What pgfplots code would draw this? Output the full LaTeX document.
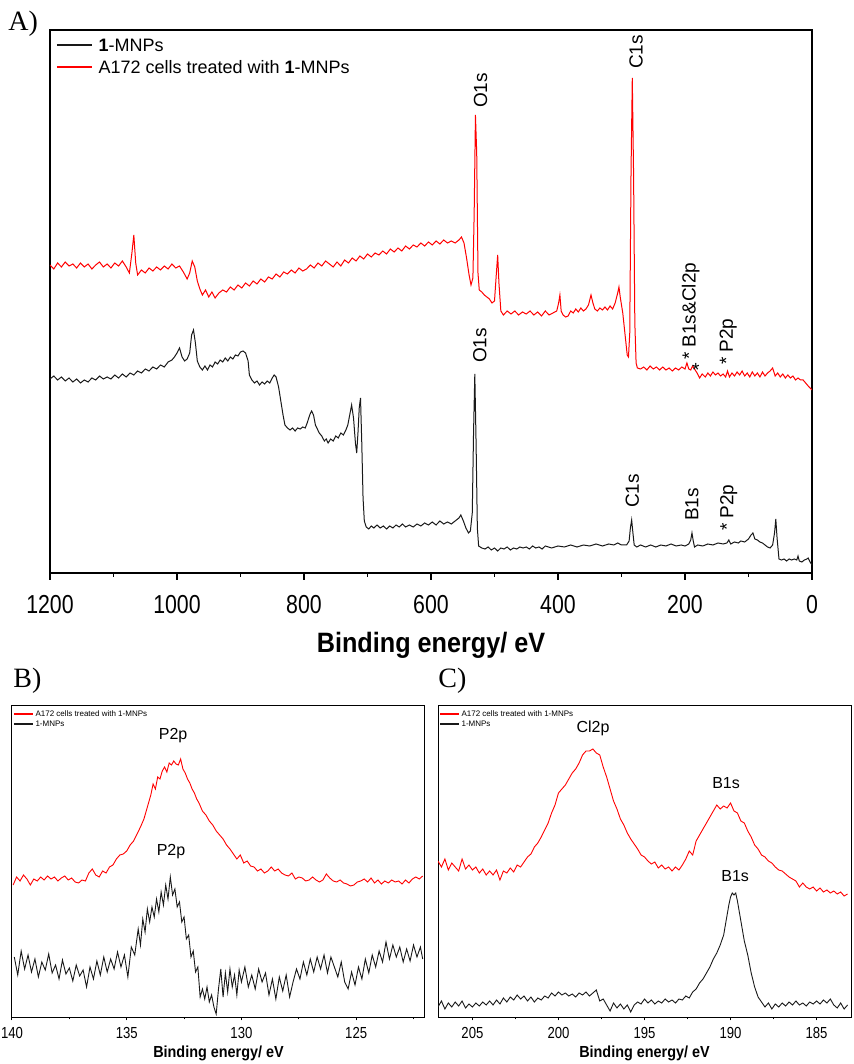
\documentclass[border=0pt]{standalone}
\usepackage{fontspec}
\setmainfont{Liberation Sans}
\newfontfamily\seriff{Liberation Serif}
\newfontfamily\narrowf[FakeStretch=0.82]{Liberation Sans}
\newfontfamily\labelf[FakeStretch=0.9]{Liberation Sans}
\usepackage{pgfplots}
\pgfplotsset{compat=1.18}
\definecolor{specred}{RGB}{255,0,0}
\definecolor{specblk}{RGB}{25,25,25}

\pgfplotsset{
  xps/.style={
    scale only axis, x dir=reverse, ytick=\empty,
    xtick pos=bottom, tick align=outside,
    /pgf/number format/assume math mode=true,
    /pgf/number format/1000 sep={},
  },
}

\begin{document}
\begin{tikzpicture}
\useasboundingbox (0,0) rectangle (427pt,532pt);

\node[inner sep=0pt, anchor=base west, font=\seriff\fontsize{14}{14}\selectfont] at (4pt,516.5pt) {A)};
\node[inner sep=0pt, anchor=base west, font=\seriff\fontsize{14}{14}\selectfont] at (6.5pt,188pt) {B)};
\node[inner sep=0pt, anchor=base west, font=\seriff\fontsize{14}{14}\selectfont] at (219pt,188pt) {C)};

% ---------- A: survey ----------
\begin{axis}[xps,
  at={(25pt,245.5pt)}, anchor=south west,
  width=381pt, height=271.5pt,
  xmin=0, xmax=1200, ymin=0, ymax=543,
  xtick={0,200,...,1200}, minor xtick={100,300,...,1100},
  major tick length=3.5pt, minor tick length=2pt,
  axis line style={line width=1pt},
  tick style={line width=0.8pt, black},
  xticklabel style={font=\narrowf\fontsize{13}{13}\selectfont, yshift=-4pt},
  xlabel={Binding energy/ eV},
  xlabel style={font=\labelf\bfseries\fontsize{14}{14}\selectfont, at={(axis description cs:0.5,0)}, anchor=center, yshift=-36pt},
]
\addplot[specblk, line width=0.5pt] coordinates {
(1200,194) (1194,197) (1188,193) (1182,196) (1176,192) (1170,195) (1164,191) (1158,194) (1152,190) (1146,193)
(1140,191) (1134,195) (1128,193) (1122,197) (1116,194) (1110,196) (1104,194) (1098,198) (1092,195) (1086,199)
(1080,196) (1074,200) (1068,198) (1062,202) (1056,200) (1050,204) (1044,202) (1038,206) (1032,204) (1026,208)
(1020,206) (1014,211) (1008,213) (1004,216) (1000,220) (996,225) (992,216) (988,212) (984,214) (980,220)
(977,238) (974,243) (971,230) (968,212) (964,206) (960,203) (956,207) (952,203) (948,208) (944,206)
(940,211) (936,209) (932,213) (928,211) (924,215) (920,212) (916,216) (912,214) (908,218) (904,217)
(900,221) (896,222) (892,220) (888,212) (886,198) (882,193) (878,190) (874,192) (870,188) (866,191)
(862,189) (858,192) (854,190) (850,195) (847,198) (844,196) (840,186) (836,170) (833,158) (830,148)
(826,145) (822,143) (818,145) (814,142) (810,145) (806,144) (802,146) (798,145) (795,150) (791,158)
(788,162) (785,158) (782,148) (779,144) (776,140) (772,137) (768,132) (765,134) (762,130) (758,134)
(754,132) (750,137) (746,135) (742,140) (738,138) (734,143) (731,148) (728,158) (725,168) (722,155)
(719,130) (717,120) (715,140) (713,165) (711,175) (709,130) (707,75) (705,52) (702,46) (698,44)
(694,47) (690,45) (685,48) (680,45) (675,47) (670,44) (665,47) (660,45) (655,48) (650,46)
(645,49) (640,46) (634,48) (628,46) (622,49) (616,47) (610,50) (604,48) (598,51) (592,48)
(586,52) (580,49) (574,51) (568,49) (562,52) (556,55) (553,58) (549,52) (545,45) (541,40)
(538,42) (535,60) (533,140) (531,199) (529,130) (527,45) (525,27) (520,25) (515,24) (510,26)
(505,23) (500,25) (495,22) (490,25) (485,24) (480,26) (475,23) (470,25) (465,24) (460,26)
(455,25) (450,26) (445,24) (440,27) (435,25) (430,26) (425,24) (420,27) (410,25) (400,27)
(390,26) (380,28) (370,26) (360,28) (350,27) (340,29) (330,27) (320,29) (312,28) (306,30)
(300,28) (292,28) (288,32) (286,45) (284,53) (282,40) (280,28) (276,26) (270,28) (262,26)
(254,28) (246,26) (238,28) (230,27) (222,29) (214,27) (206,28) (200,27) (194,29) (191,33)
(189,40) (187,32) (185,26) (180,28) (172,27) (164,29) (156,28) (148,30) (140,29) (134,30)
(131,33) (128,29) (122,31) (116,30) (112,32) (106,31) (100,34) (96,38) (93,40) (90,34)
(86,33) (82,31) (78,30) (74,28) (70,26) (66,25) (62,28) (59,40) (57,54) (55,35)
(52,14) (48,13) (44,14) (40,12) (36,14) (32,13) (28,14) (24,13) (22,17) (20,12)
(16,11) (12,13) (8,14) (6,15) (3,11) (0,8)
};
\addplot[specred, line width=0.5pt] coordinates {
(1200,308) (1194,304) (1188,310) (1182,306) (1176,311) (1170,307) (1164,309) (1158,305) (1152,310) (1146,306)
(1140,309) (1134,304) (1128,308) (1122,311) (1116,306) (1110,309) (1104,305) (1098,310) (1092,307) (1086,312)
(1080,306) (1075,300) (1071,320) (1068,338) (1065,310) (1062,298) (1056,303) (1050,300) (1044,305) (1038,302)
(1032,306) (1026,303) (1020,307) (1014,304) (1008,309) (1002,305) (996,307) (990,301) (984,294) (980,300)
(976,312) (972,306) (968,292) (964,284) (960,278) (955,283) (950,276) (945,281) (940,275) (934,280)
(928,283) (922,281) (916,286) (910,283) (904,288) (898,285) (892,290) (886,287) (880,292) (874,289)
(868,294) (862,291) (856,296) (850,294) (844,299) (838,296) (832,301) (826,299) (820,303) (814,300)
(808,305) (802,302) (796,304) (790,308) (784,305) (778,310) (772,307) (766,312) (760,309) (754,306)
(748,311) (742,307) (736,313) (730,310) (724,315) (718,312) (712,317) (706,314) (700,319) (694,316)
(688,320) (682,318) (676,322) (670,319) (664,324) (658,321) (652,325) (646,322) (640,327) (634,324)
(628,328) (622,326) (616,330) (610,327) (604,331) (598,328) (592,332) (586,329) (580,333) (574,330)
(568,332) (562,330) (556,333) (552,336) (548,330) (544,315) (540,298) (537,288) (534,295) (532,360)
(530,458) (528,420) (526,300) (524,283) (520,281) (516,278) (512,276) (508,274) (504,270) (500,272)
(497,300) (495,318) (493,290) (490,262) (486,258) (480,262) (474,259) (468,262) (462,258) (456,261)
(450,259) (444,262) (438,258) (432,261) (426,257) (420,262) (414,258) (408,260) (402,262) (399,270)
(397,278) (395,262) (392,258) (388,256) (384,257) (380,262) (376,260) (372,264) (368,261) (364,265)
(360,262) (356,264) (352,268) (348,278) (345,270) (342,264) (338,262) (334,265) (330,263) (326,266)
(322,263) (318,267) (314,264) (310,270) (306,280) (304,286) (302,276) (298,260) (294,236) (291,218)
(289,216) (287,240) (285,400) (283,495) (281,400) (279,250) (277,210) (275,205) (270,204) (265,206)
(260,203) (255,207) (250,204) (245,206) (240,203) (235,206) (230,203) (225,205) (220,202) (215,205)
(210,203) (205,206) (200,204) (197,210) (194,204) (191,203) (188,207) (185,204) (181,200) (177,195)
(173,199) (168,196) (164,200) (160,197) (156,201) (152,198) (148,200) (144,197) (140,199) (136,196)
(133,202) (130,196) (126,200) (122,197) (118,201) (114,198) (110,202) (106,197) (102,200) (98,196)
(94,201) (90,197) (86,200) (82,196) (78,201) (74,197) (70,200) (66,202) (62,205) (58,197)
(54,200) (50,196) (46,199) (42,195) (38,198) (34,195) (30,197) (26,193) (22,195) (18,193)
(14,193) (10,190) (6,187) (3,185) (0,183)
};
% legend
\draw[specblk, line width=0.6pt] (rel axis cs:0,1) ++(3.5pt,-7.5pt) -- ++(17.5pt,0pt)
  node[anchor=west, inner sep=0pt, xshift=3pt, text=black, font=\fontsize{9}{10}\selectfont] {\textbf{1}-MNPs};
\draw[specred, line width=0.6pt] (rel axis cs:0,1) ++(3.5pt,-18.5pt) -- ++(17.5pt,0pt)
  node[anchor=west, inner sep=0pt, xshift=3pt, text=black, font=\fontsize{9}{10}\selectfont] {A172 cells treated with \textbf{1}-MNPs};
\begin{scope}[every node/.style={font=\fontsize{9.5}{10}\selectfont}]
\node[rotate=90, anchor=west] at (axis cs:522,458) {O1s};
\node[rotate=90, anchor=west] at (axis cs:277,497) {C1s};
\node[rotate=90, anchor=west] at (axis cs:191,206) {* B1s\&Cl2p};
\node at (axis cs:183,203) {*};
\node[rotate=90, anchor=west] at (axis cs:132,201) {* P2p};
\node[rotate=90, anchor=west] at (axis cs:523,203) {O1s};
\node[rotate=90, anchor=west] at (axis cs:283,58) {C1s};
\node[rotate=90, anchor=west] at (axis cs:189,45) {B1s};
\node[rotate=90, anchor=west] at (axis cs:131,35) {* P2p};
\end{scope}
\end{axis}

% ---------- B: P2p ----------
\begin{axis}[xps,
  at={(6pt,23.5pt)}, anchor=south west,
  width=206.5pt, height=155.5pt,
  xmin=122, xmax=140, ymin=0, ymax=311,
  xtick={125,130,135,140}, minor xtick={122.5,127.5,132.5,137.5},
  major tick length=1.7pt, minor tick length=1.2pt,
  axis line style={line width=0.5pt},
  tick style={line width=0.5pt, black},
  xticklabel style={font=\narrowf\fontsize{8}{8}\selectfont},
  xlabel={Binding energy/ eV},
  xlabel style={font=\labelf\bfseries\fontsize{8}{8}\selectfont, at={(axis description cs:0.5,0)}, anchor=center, yshift=-18pt},
]
\addplot[specred, line width=0.45pt] coordinates {
(139.95,132) (139.8,140) (139.65,136) (139.5,142) (139.35,138) (139.2,132) (139.05,138) (138.9,136) (138.75,140) (138.6,137)
(138.45,141) (138.3,138) (138.15,140) (138.0,136) (137.85,139) (137.7,141) (137.55,137) (137.4,139) (137.25,135) (137.1,134)
(136.95,137) (136.8,136) (136.65,144) (136.5,148) (136.35,142) (136.2,140) (136.05,146) (135.9,144) (135.75,150) (135.6,152)
(135.45,158) (135.3,162) (135.15,163) (135.0,166) (134.85,172) (134.7,176) (134.55,183) (134.4,190) (134.25,198) (134.1,210)
(133.95,222) (133.85,233) (133.75,228) (133.65,240) (133.55,238) (133.45,246) (133.35,250) (133.25,245) (133.15,254) (133.05,252)
(132.95,256) (132.85,253) (132.75,252) (132.65,258) (132.55,248) (132.45,244) (132.35,238) (132.25,234) (132.15,228) (132.05,224)
(131.95,218) (131.85,214) (131.7,206) (131.55,202) (131.4,196) (131.25,192) (131.1,186) (130.95,182) (130.8,178) (130.65,172)
(130.5,168) (130.35,163) (130.2,158) (130.05,162) (129.9,154) (129.75,156) (129.6,151) (129.45,150) (129.3,146) (129.15,148)
(129.0,144) (128.85,146) (128.7,150) (128.55,146) (128.4,148) (128.25,144) (128.1,142) (127.95,141) (127.8,144) (127.65,138)
(127.5,140) (127.35,139) (127.2,136) (127.05,137) (126.9,140) (126.75,137) (126.6,135) (126.45,137) (126.3,143) (126.15,139)
(126.0,136) (125.85,135) (125.7,137) (125.55,134) (125.4,133) (125.25,131) (125.1,132) (124.95,135) (124.8,136) (124.65,138)
(124.5,135) (124.35,139) (124.2,134) (124.05,137) (123.9,133) (123.75,136) (123.6,134) (123.45,137) (123.3,135) (123.15,136)
(123.0,133) (122.85,137) (122.7,134) (122.55,138) (122.4,140) (122.25,138) (122.1,141)
};
\addplot[specblk, line width=0.45pt] coordinates {
(139.9,60) (139.75,42) (139.6,66) (139.45,48) (139.3,62) (139.15,45) (139.0,58) (138.85,40) (138.7,55) (138.55,47)
(138.4,63) (138.25,44) (138.1,52) (137.95,38) (137.8,57) (137.65,43) (137.5,49) (137.35,36) (137.2,52) (137.05,41)
(136.9,47) (136.75,30) (136.6,50) (136.45,38) (136.3,56) (136.15,42) (136.0,60) (135.85,45) (135.7,58) (135.55,48)
(135.4,65) (135.25,50) (135.1,62) (134.95,40) (134.8,70) (134.65,62) (134.5,88) (134.4,72) (134.3,98) (134.2,85)
(134.1,108) (134.0,95) (133.9,110) (133.8,100) (133.7,118) (133.6,105) (133.5,125) (133.4,112) (133.3,132) (133.2,118)
(133.1,140) (133.0,122) (132.9,128) (132.8,110) (132.7,115) (132.6,95) (132.5,100) (132.4,78) (132.3,82) (132.2,60)
(132.1,66) (132.0,45) (131.9,50) (131.8,20) (131.7,28) (131.6,18) (131.5,30) (131.4,15) (131.3,22) (131.2,10)
(131.1,3) (131.0,28) (130.9,48) (130.8,20) (130.7,44) (130.6,25) (130.5,48) (130.4,30) (130.3,42) (130.2,22)
(130.1,47) (130.0,35) (129.85,50) (129.7,30) (129.55,42) (129.4,28) (129.25,48) (129.1,35) (128.95,44) (128.8,22)
(128.65,38) (128.5,18) (128.35,40) (128.2,26) (128.05,42) (127.9,20) (127.75,35) (127.6,48) (127.45,38) (127.3,55)
(127.15,42) (127.0,58) (126.85,45) (126.7,60) (126.55,48) (126.4,62) (126.25,44) (126.1,60) (125.95,50) (125.8,40)
(125.65,55) (125.5,35) (125.35,28) (125.2,45) (125.05,32) (124.9,50) (124.75,38) (124.6,58) (124.45,44) (124.3,62)
(124.15,50) (124.0,66) (123.85,55) (123.7,75) (123.55,58) (123.4,72) (123.25,60) (123.1,70) (122.95,55) (122.8,68)
(122.65,56) (122.5,72) (122.35,60) (122.2,70) (122.1,58)
};
\draw[specred, line width=0.55pt] (rel axis cs:0,1) ++(1pt,-4pt) -- ++(9.5pt,0pt)
  node[anchor=west, inner sep=0pt, xshift=1pt, text=black, font=\fontsize{4}{4.5}\selectfont] {A172 cells treated with 1-MNPs};
\draw[specblk, line width=0.55pt] (rel axis cs:0,1) ++(1pt,-9pt) -- ++(9.5pt,0pt)
  node[anchor=west, inner sep=0pt, xshift=1pt, text=black, font=\fontsize{4}{4.5}\selectfont] {1-MNPs};
\node[font=\fontsize{8}{8}\selectfont] at (axis cs:132.98,281) {P2p};
\node[font=\fontsize{8}{8}\selectfont] at (axis cs:133.07,165) {P2p};
\end{axis}

% ---------- C: B1s / Cl2p ----------
\begin{axis}[xps,
  at={(219pt,23.5pt)}, anchor=south west,
  width=206.5pt, height=155.5pt,
  xmin=183, xmax=207, ymin=0, ymax=311,
  xtick={185,190,195,200,205}, minor xtick={187.5,192.5,197.5,202.5},
  major tick length=1.7pt, minor tick length=1.2pt,
  axis line style={line width=0.5pt},
  tick style={line width=0.5pt, black},
  xticklabel style={font=\narrowf\fontsize{8}{8}\selectfont},
  xlabel={Binding energy/ eV},
  xlabel style={font=\labelf\bfseries\fontsize{8}{8}\selectfont, at={(axis description cs:0.5,0)}, anchor=center, yshift=-18pt},
]
\addplot[specred, line width=0.45pt] coordinates {
(207.0,156) (206.8,150) (206.6,158) (206.4,147) (206.2,154) (206.0,150) (205.8,146) (205.6,158) (205.4,148) (205.2,152)
(205.0,147) (204.8,150) (204.6,144) (204.4,148) (204.2,142) (204.0,146) (203.8,142) (203.6,147) (203.4,137) (203.2,146)
(203.0,144) (202.8,149) (202.6,145) (202.4,152) (202.2,150) (202.0,155) (201.8,160) (201.6,163) (201.4,170) (201.2,174)
(201.0,180) (200.8,187) (200.6,194) (200.4,204) (200.2,212) (200.0,224) (199.8,228) (199.6,232) (199.4,238) (199.2,244)
(199.0,248) (198.8,254) (198.6,262) (198.4,266) (198.2,266) (198.0,268) (197.8,264) (197.6,262) (197.4,250) (197.2,240)
(197.0,228) (196.8,216) (196.6,208) (196.4,198) (196.2,192) (196.0,184) (195.8,178) (195.6,173) (195.4,168) (195.2,162)
(195.0,160) (194.8,156) (194.6,153) (194.4,155) (194.2,149) (194.0,152) (193.8,148) (193.6,150) (193.4,146) (193.2,150)
(193.0,147) (192.8,152) (192.6,158) (192.4,166) (192.2,162) (192.0,176) (191.8,182) (191.6,188) (191.4,194) (191.2,200)
(191.0,206) (190.8,212) (190.6,208) (190.4,211) (190.2,209) (190.0,214) (189.8,206) (189.6,204) (189.4,196) (189.2,194)
(189.0,186) (188.8,180) (188.6,172) (188.4,168) (188.2,162) (188.0,160) (187.8,156) (187.6,154) (187.4,150) (187.2,147)
(187.0,146) (186.8,143) (186.6,140) (186.4,138) (186.2,136) (186.0,130) (185.8,134) (185.6,130) (185.4,128) (185.2,130)
(185.0,126) (184.8,129) (184.6,125) (184.4,127) (184.2,124) (184.0,126) (183.8,123) (183.6,125) (183.4,121) (183.2,123)
};
\addplot[specblk, line width=0.45pt] coordinates {
(207.0,10) (206.8,16) (206.6,8) (206.4,14) (206.2,10) (206.0,15) (205.8,11) (205.6,16) (205.4,9) (205.2,13)
(205.0,10) (204.8,14) (204.6,11) (204.4,15) (204.2,12) (204.0,16) (203.8,12) (203.6,17) (203.4,13) (203.2,19)
(203.0,15) (202.8,20) (202.6,17) (202.4,22) (202.2,18) (202.0,21) (201.8,16) (201.6,20) (201.4,15) (201.2,19)
(201.0,17) (200.8,21) (200.6,19) (200.4,24) (200.2,21) (200.0,25) (199.8,22) (199.6,24) (199.4,21) (199.2,23)
(199.0,20) (198.8,24) (198.6,22) (198.4,25) (198.2,21) (198.0,24) (197.8,27) (197.6,16) (197.4,18) (197.2,12)
(197.0,6) (196.8,14) (196.6,9) (196.4,13) (196.2,8) (196.0,12) (195.8,5) (195.6,12) (195.4,15) (195.2,13)
(195.0,18) (194.8,14) (194.6,17) (194.4,13) (194.2,16) (194.0,14) (193.8,18) (193.6,15) (193.4,17) (193.2,14)
(193.0,18) (192.8,17) (192.6,21) (192.4,19) (192.2,25) (192.0,28) (191.8,34) (191.6,38) (191.4,44) (191.2,50)
(191.0,58) (190.8,64) (190.6,72) (190.4,82) (190.3,92) (190.2,102) (190.1,112) (190.0,120) (189.9,124) (189.8,122)
(189.7,124) (189.6,116) (189.5,106) (189.4,96) (189.3,86) (189.2,76) (189.0,62) (188.8,44) (188.6,30) (188.4,20)
(188.2,15) (188.0,10) (187.8,14) (187.6,8) (187.4,13) (187.2,10) (187.0,14) (186.8,11) (186.6,15) (186.4,12)
(186.2,16) (186.0,12) (185.8,14) (185.6,11) (185.4,15) (185.2,13) (185.0,16) (184.8,13) (184.6,17) (184.4,14)
(184.2,18) (184.0,12) (183.8,9) (183.6,14) (183.4,8) (183.2,12)
};
\draw[specred, line width=0.55pt] (rel axis cs:0,1) ++(1pt,-4pt) -- ++(9.5pt,0pt)
  node[anchor=west, inner sep=0pt, xshift=1pt, text=black, font=\fontsize{4}{4.5}\selectfont] {A172 cells treated with 1-MNPs};
\draw[specblk, line width=0.55pt] (rel axis cs:0,1) ++(1pt,-9pt) -- ++(9.5pt,0pt)
  node[anchor=west, inner sep=0pt, xshift=1pt, text=black, font=\fontsize{4}{4.5}\selectfont] {1-MNPs};
\node[font=\fontsize{8}{8}\selectfont] at (axis cs:197.99,289) {Cl2p};
\node[font=\fontsize{8}{8}\selectfont] at (axis cs:190.26,234) {B1s};
\node[font=\fontsize{8}{8}\selectfont] at (axis cs:189.73,141) {B1s};
\end{axis}
\end{tikzpicture}
\end{document}
